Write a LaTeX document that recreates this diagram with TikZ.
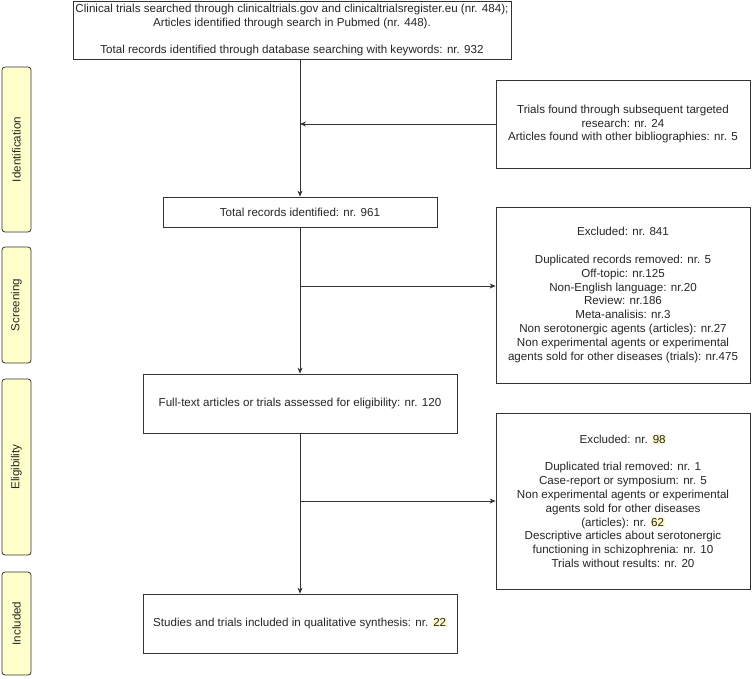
\documentclass[tikz,border=0pt]{standalone}
\usepackage{fontspec}
\setmainfont{Liberation Sans}
\usetikzlibrary{arrows.meta}
\definecolor{linegray}{HTML}{333333}
\definecolor{phasefill}{HTML}{FFFFCC}
\definecolor{hlyellow}{HTML}{FFFAC8}
\newcommand\hlnum[1]{{\setlength{\fboxsep}{0.6pt}\colorbox{hlyellow}{#1}}}
\begin{document}
\begin{tikzpicture}[x=1pt,y=-1pt,
  every node/.style={font=\fontsize{11.6}{13.8}\selectfont, text=black!85},
  box/.style={draw=linegray, line width=0.8pt, fill=white, align=center, inner sep=0pt},
  phase/.style={draw=linegray, line width=0.8pt, fill=phasefill, rounded corners=3pt, inner sep=0pt},
  conn/.style={draw=linegray, line width=0.8pt},
  arr/.style={conn, -{Stealth[length=6pt,width=5pt]}}
]
\useasboundingbox (0,0) rectangle (753,678);

% phase labels
\node[phase, minimum width=29pt, minimum height=165pt] (pid) at (16.5,149.5) {};
\node[rotate=90] at (pid.center) {Identification};
\node[phase, minimum width=29pt, minimum height=116pt] (psc) at (16.5,305) {};
\node[rotate=90] at (psc.center) {Screening};
\node[phase, minimum width=29pt, minimum height=176pt] (pel) at (16.5,467) {};
\node[rotate=90] at (pel.center) {Eligibility};
\node[phase, minimum width=29pt, minimum height=103pt] (pin) at (16.5,623.5) {};
\node[rotate=90] at (pin.center) {Included};

% main column
\node[box, minimum width=438pt, minimum height=58pt] (top) at (292,30)
  {Clinical trials searched through clinicaltrials.gov and clinicaltrialsregister.eu (nr. 484);\\
   Articles identified through search in Pubmed (nr. 448).\\[13.8pt]
   Total records identified through database searching with keywords: nr. 932};
\node[box, minimum width=274pt, minimum height=30pt] (total) at (300,212)
  {Total records identified: nr. 961};
\node[box, minimum width=314pt, minimum height=59pt] (full) at (300,403.5)
  {Full-text articles or trials assessed for eligibility: nr. 120};
\node[box, minimum width=314pt, minimum height=59pt] (incl) at (300,623.5)
  {Studies and trials included in qualitative synthesis: nr. \hlnum{22}};

% right column
\node[box, minimum width=254pt, minimum height=88pt] (trials) at (623,124)
  {Trials found through subsequent targeted\\ research: nr. 24\\ Articles found with other bibliographies: nr. 5};
\node[box, minimum width=254pt, minimum height=176pt] (exc1) at (623,295)
  {Excluded: nr. 841\\[13.8pt]
   Duplicated records removed: nr. 5\\
   Off-topic: nr.125\\
   Non-English language: nr.20\\
   Review: nr.186\\
   Meta-analisis: nr.3\\
   Non serotonergic agents (articles): nr.27\\
   Non experimental agents or experimental\\
   agents sold for other diseases (trials): nr.475};
\node[box, minimum width=254pt, minimum height=176pt] (exc2) at (623,501)
  {Excluded: nr. \hlnum{98}\\[13.8pt]
   Duplicated trial removed: nr. 1\\
   Case-report or symposium: nr. 5\\
   Non experimental agents or experimental\\
   agents sold for other diseases\\
   (articles): nr. \hlnum{62}\\
   Descriptive articles about serotonergic\\
   functioning in schizophrenia: nr. 10\\
   Trials without results: nr. 20};

% connectors
\coordinate (j1) at (300,124);
\coordinate (j2) at (300,286);
\coordinate (j3) at (300,501);
\draw[arr] (top.south -| total.north) -- (total.north);
\draw[arr] (trials.west |- j1) -- (j1);
\draw[arr] (total.south) -- (full.north);
\draw[arr] (j2) -- (j2 -| exc1.west);
\draw[arr] (full.south) -- (incl.north);
\draw[arr] (j3) -- (j3 -| exc2.west);
\end{tikzpicture}
\end{document}
